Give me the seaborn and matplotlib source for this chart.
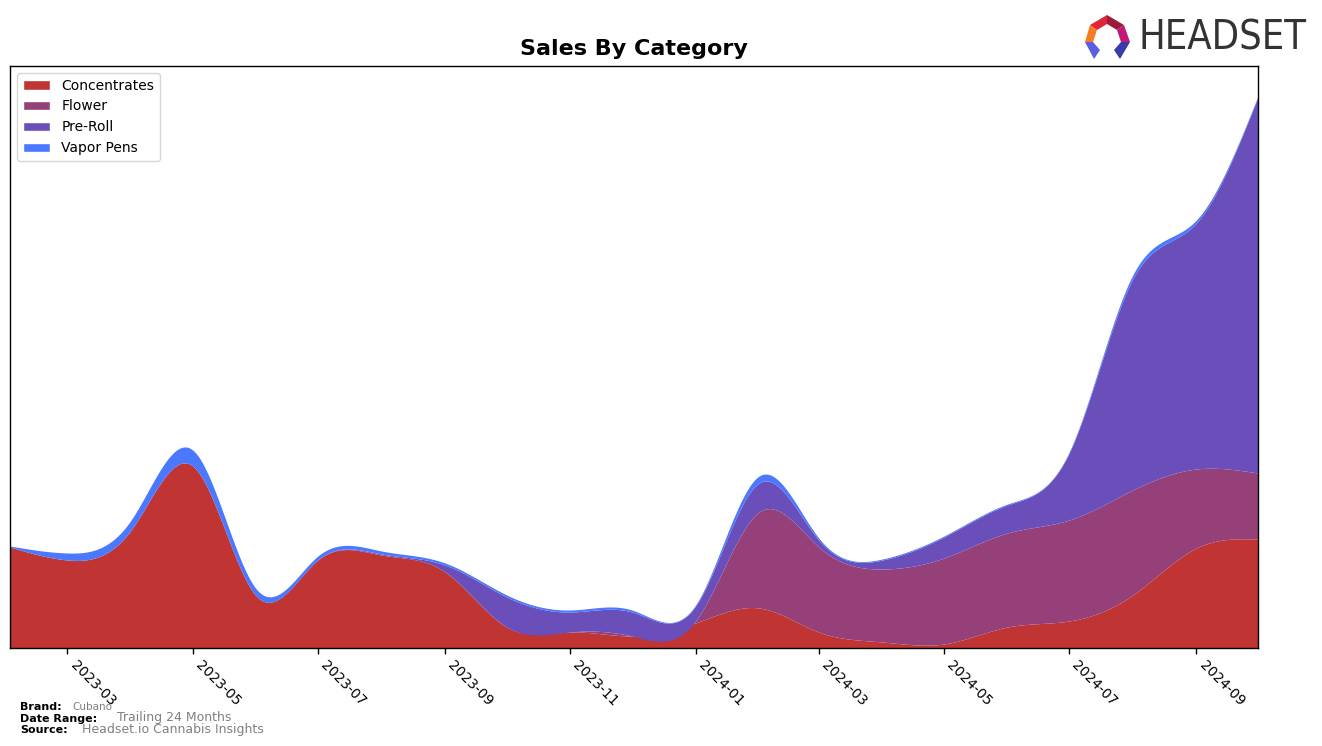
import numpy as np
import pandas as pd
import matplotlib
matplotlib.use("Agg")
import matplotlib.pyplot as plt
import matplotlib.dates as mdates
from matplotlib.patches import Polygon, Patch
import seaborn as sns

# ---------------- data (monthly) ----------------
months = pd.date_range("2023-02-01", "2024-10-01", freq="MS")
categories = ["Concentrates", "Flower", "Pre-Roll", "Vapor Pens"]
concentrates = [101, 88, 118, 182, 52, 88, 93, 76, 21, 16, 12, 25, 40, 16, 6, 4, 21, 27, 53, 100, 109]
flower       = [0, 0, 0, 0, 0, 0, 0, 0, 0, 0, 0, 2, 96, 85, 73, 86, 94, 101, 105, 79, 66]
pre_roll     = [0, 0, 0, 0, 0, 0, 1, 7, 30, 20, 24, 15, 29, 7, 9, 21, 28, 67, 211, 246, 376]
vapor_pens   = [1, 7, 10, 16, 7, 4, 3, 2, 2, 2, 2, 1, 7, 2, 1, 1, 1, 1, 4, 3, 1]
colors = ["#C03434", "#964079", "#6A4FBB", "#4A78FF"]
tick_labels = ["2023-03", "2023-05", "2023-07", "2023-09", "2023-11",
               "2024-01", "2024-03", "2024-05", "2024-07", "2024-09"]

df = pd.DataFrame({"date": months, "Concentrates": concentrates, "Flower": flower,
                   "Pre-Roll": pre_roll, "Vapor Pens": vapor_pens})


def natural_spline(x, y, xs):
    x = np.asarray(x, float); y = np.asarray(y, float)
    n = len(x); h = np.diff(x)
    A = np.zeros((n, n)); r = np.zeros(n)
    A[0, 0] = 1; A[-1, -1] = 1
    for i in range(1, n - 1):
        A[i, i - 1] = h[i - 1]; A[i, i] = 2 * (h[i - 1] + h[i]); A[i, i + 1] = h[i]
        r[i] = 6 * ((y[i + 1] - y[i]) / h[i] - (y[i] - y[i - 1]) / h[i - 1])
    M = np.linalg.solve(A, r)
    idx = np.clip(np.searchsorted(x, xs) - 1, 0, n - 2)
    x0, x1 = x[idx], x[idx + 1]; hh = x1 - x0
    return (M[idx] * (x1 - xs) ** 3 / (6 * hh) + M[idx + 1] * (xs - x0) ** 3 / (6 * hh)
            + (y[idx] / hh - M[idx] * hh / 6) * (x1 - xs)
            + (y[idx + 1] / hh - M[idx + 1] * hh / 6) * (xs - x0))


# ---------------- style ----------------
sns.set_style("ticks")
plt.rcParams["font.family"] = ["DejaVu Sans"]
plt.rcParams["axes.edgecolor"] = "black"
plt.rcParams["xtick.color"] = "black"
plt.rcParams["ytick.color"] = "black"
plt.rcParams["text.color"] = "black"

W, H = 1322, 746
fig = plt.figure(figsize=(W / 100, H / 100), dpi=100)
ax = fig.add_axes([10 / W, 1 - 648 / H, (1258 - 10) / W, (648 - 66) / H])

xnum = mdates.date2num(df["date"])
xs = np.linspace(xnum[0], xnum[-1], 1200)
smooth = [natural_spline(xnum, df[c].values, xs) for c in categories]
ax.stackplot(xs, *smooth, colors=colors, labels=categories, linewidth=0)

ax.set_xlim(xnum[0], xnum[-1])
ax.set_ylim(0, 582)
ax.set_yticks([])
tick_pos = mdates.date2num(pd.to_datetime([t + "-01" for t in tick_labels]))
ax.set_xticks(tick_pos)
ax.set_xticklabels(tick_labels, rotation=-45, ha="left", fontsize=10)
ax.tick_params(axis="x", length=4, width=1, direction="out")
for s in ax.spines.values():
    s.set_linewidth(1)
    s.set_color("black")
ax.set_title("Sales By Category", fontsize=16, fontweight="bold", pad=8)

handles = [Patch(facecolor=c, label=l) for c, l in zip(colors, categories)]
ax.legend(handles=handles, loc="upper left", fontsize=10, frameon=True,
          borderaxespad=0.5, handlelength=2, edgecolor="#cccccc")

# ---------------- footer ----------------
def ft(x, y, s, **kw):
    fig.text(x / W, 1 - y / H, s, va="center", **kw)

ft(20, 707, "Brand:", fontsize=8, fontweight="bold")
ft(72, 707, "Cubano", fontsize=7.5, color="grey")
ft(20, 719, "Date Range:", fontsize=8, fontweight="bold")
ft(117, 718, "Trailing 24 Months", fontsize=9, color="grey")
ft(20, 730, "Source:", fontsize=8, fontweight="bold")
ft(82, 730, "Headset.io Cannabis Insights", fontsize=9, color="grey")

# ---------------- logo ----------------
lax = fig.add_axes([0, 0, 1, 1], zorder=-1)
lax.set_xlim(0, W); lax.set_ylim(H, 0); lax.axis("off")
pieces = [
    ([(1090, 25), (1107, 15), (1107, 24), (1097, 30)], "#E0253A"),
    ([(1107, 15), (1124, 25), (1117, 30), (1107, 24)], "#9B1B3A"),
    ([(1124, 25), (1130, 42), (1121, 42), (1117, 30)], "#C21A75"),
    ([(1090, 25), (1097, 30), (1093, 42), (1085, 42)], "#F57C20"),
    ([(1085, 42), (1093, 42), (1100, 50), (1094, 59)], "#5A5EE0"),
    ([(1130, 42), (1121, 42), (1114, 50), (1120, 59)], "#3A3AA8"),
]
for pts, c in pieces:
    lax.add_patch(Polygon(pts, closed=True, facecolor=c, edgecolor="none"))
logo = lax.text(1139, 38, "HEADSET", fontsize=30, color="#333333", va="center", ha="left",
                family=["DejaVu Sans"], fontstretch="condensed")
fig.canvas.draw()
wpx = logo.get_window_extent(fig.canvas.get_renderer()).width
logo.set_fontsize(30 * 168.0 / wpx)

fig.savefig("out.png", dpi=100)
